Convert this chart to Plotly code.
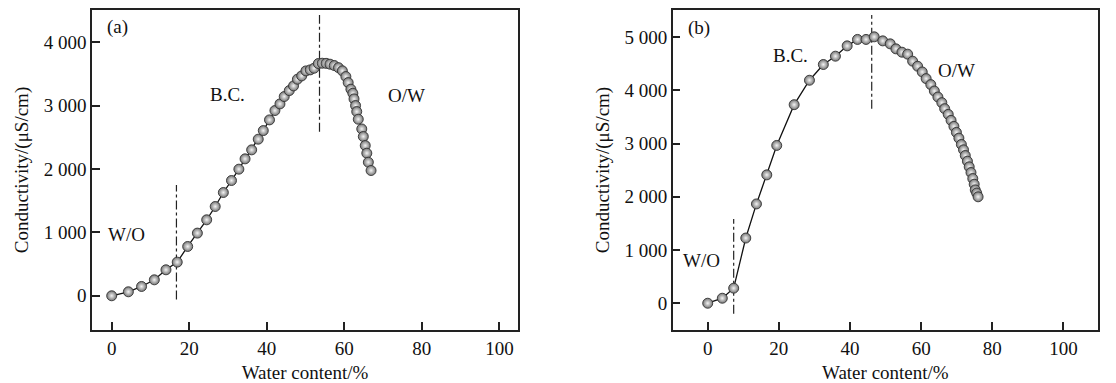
import plotly.graph_objects as go

# ---------------- data ----------------
# Panel (a)
water_a = [0, 4.3, 7.7, 11.0, 14.0, 16.9, 19.6, 22.1, 24.5, 26.7, 28.8, 30.9, 32.8, 34.4,
           36.1, 37.8, 39.1, 40.7, 42.1, 43.4, 44.5, 45.8, 46.9, 47.9, 49.0, 50.1, 51.2,
           52.2, 53.3, 54.3, 55.3, 56.3, 57.4, 58.5, 59.5, 60.4, 61.0, 61.7, 62.2, 62.5,
           62.9, 63.2, 63.6, 64.5, 64.9, 65.4, 65.8, 66.2, 66.9]
cond_a = [0, 63, 147, 252, 410, 531, 778, 989, 1199, 1409, 1630, 1819, 1998, 2161,
          2303, 2471, 2607, 2776, 2923, 3028, 3144, 3238, 3312, 3418, 3470, 3549, 3565,
          3591, 3665, 3670, 3668, 3655, 3634, 3600, 3550, 3460, 3364, 3260, 3196, 3107,
          3002, 2907, 2786, 2633, 2513, 2371, 2250, 2108, 1977]
bounds_a = [16.7, 53.6]
bound_spans_a = [(-60, 1750), (2590, 4430)]

# Panel (b)
water_b = [0, 4.1, 7.3, 10.7, 13.7, 16.6, 19.4, 24.3, 28.6, 32.5, 35.9, 39.2, 42.1, 44.5,
           46.8, 49.2, 51.3, 52.9, 54.6, 56.2, 57.6, 59.0, 60.3, 61.4, 62.7, 63.7, 64.7,
           65.8, 66.6, 67.6, 68.4, 69.2, 69.9, 70.6, 71.3, 71.9, 72.4, 73.0, 73.5, 74.0,
           74.5, 74.9, 75.2, 75.6, 76.0]
cond_b = [0, 94, 283, 1225, 1866, 2412, 2965, 3731, 4190, 4486, 4642, 4836, 4957, 4957,
          5006, 4930, 4874, 4780, 4717, 4680, 4548, 4453, 4346, 4221, 4108, 3988, 3875,
          3769, 3656, 3549, 3436, 3323, 3210, 3102, 2983, 2883, 2776, 2669, 2563, 2456,
          2343, 2236, 2130, 2070, 2000]
bounds_b = [7.3, 46.1]
bound_spans_b = [(-196, 1583), (3656, 5415)]

x_ticks = [0, 20, 40, 60, 80, 100]
y_ticks_a = [0, 1000, 2000, 3000, 4000]
y_ticks_b = [0, 1000, 2000, 3000, 4000, 5000]
y_labels_a = ["0", "1 000", "2 000", "3 000", "4 000"]
y_labels_b = ["0", "1 000", "2 000", "3 000", "4 000", "5 000"]

FONT = "Liberation Serif"
FS = 19
# the page body adds an 8 px margin, so the figure starts 8 px in
W, H = 1100, 375
OFF = 8
MB = H - (330 - OFF)          # bottom margin so the plot box ends at page y=330

fig = go.Figure()

marker = dict(size=10, color="#747474",
              gradient=dict(type="radial", color="#f4f4f4"),
              line=dict(color="#333", width=0.9))

fig.add_trace(go.Scatter(x=water_a, y=cond_a, mode="lines+markers",
                         line=dict(color="#111", width=1.3), marker=marker,
                         xaxis="x", yaxis="y", showlegend=False))
fig.add_trace(go.Scatter(x=water_b, y=cond_b, mode="lines+markers",
                         line=dict(color="#111", width=1.3), marker=marker,
                         xaxis="x2", yaxis="y2", showlegend=False))

shapes = []
for xv, (y0, y1) in zip(bounds_a, bound_spans_a):
    shapes.append(dict(type="line", xref="x", yref="y", x0=xv, x1=xv, y0=y0, y1=y1,
                       line=dict(color="#222", width=1.2, dash="dashdot"), layer="below"))
for xv, (y0, y1) in zip(bounds_b, bound_spans_b):
    shapes.append(dict(type="line", xref="x2", yref="y2", x0=xv, x1=xv, y0=y0, y1=y1,
                       line=dict(color="#222", width=1.2, dash="dashdot"), layer="below"))

def ann(text, x, y, xr, yr):
    return dict(text=text, x=x, y=y, xref=xr, yref=yr, showarrow=False,
                xanchor="left", yanchor="middle", xshift=-2,
                font=dict(family=FONT, size=FS, color="#111"))

annotations = [
    ann("(a)", -1.2, 4243, "x", "y"),
    ann("W/O", -1.0, 962, "x", "y"),
    ann("B.C.", 25.4, 3170, "x", "y"),
    ann("O/W", 71.3, 3155, "x", "y"),
    ann("(b)", -5.5, 5170, "x2", "y2"),
    ann("W/O", -6.9, 797, "x2", "y2"),
    ann("B.C.", 18.4, 4661, "x2", "y2"),
    ann("O/W", 64.7, 4379, "x2", "y2"),
]

axis_common = dict(showgrid=False, zeroline=False, showline=True, mirror=True,
                   linecolor="#222", linewidth=1.5, ticks="inside", ticklen=8,
                   tickwidth=2, tickcolor="#222",
                   tickfont=dict(family=FONT, size=FS, color="#111"))

def xdom(a, b):
    return [(a - OFF) / W, (b - OFF) / W]

PH = H - MB
ydom = [0, 1 - (10 - OFF) / PH]
tfont = dict(family=FONT, size=FS, color="#111")

fig.update_layout(
    width=W, height=H,
    margin=dict(l=0, r=0, t=0, b=MB),
    paper_bgcolor="white", plot_bgcolor="white",
    font=dict(family=FONT, size=FS, color="#111"),
    xaxis=dict(domain=xdom(92, 518), range=[-5.08, 104.8], tickvals=x_ticks,
               title=dict(text="Water content/%", font=tfont, standoff=8),
               anchor="y", **axis_common),
    yaxis=dict(domain=ydom, range=[-540, 4510], tickvals=y_ticks_a, ticktext=y_labels_a,
               title=dict(text="Conductivity/(μS/cm)", font=tfont, standoff=10),
               anchor="x", **axis_common),
    xaxis2=dict(domain=xdom(672.7, 1098), range=[-9.84, 109.7], tickvals=x_ticks,
                title=dict(text="Water content/%", font=tfont, standoff=8),
                anchor="y2", **axis_common),
    yaxis2=dict(domain=ydom, range=[-503, 5510], tickvals=y_ticks_b, ticktext=y_labels_b,
                title=dict(text="Conductivity/(μS/cm)", font=tfont, standoff=10),
                anchor="x2", **axis_common),
    shapes=shapes, annotations=annotations,
)

fig.write_html("out.html")
